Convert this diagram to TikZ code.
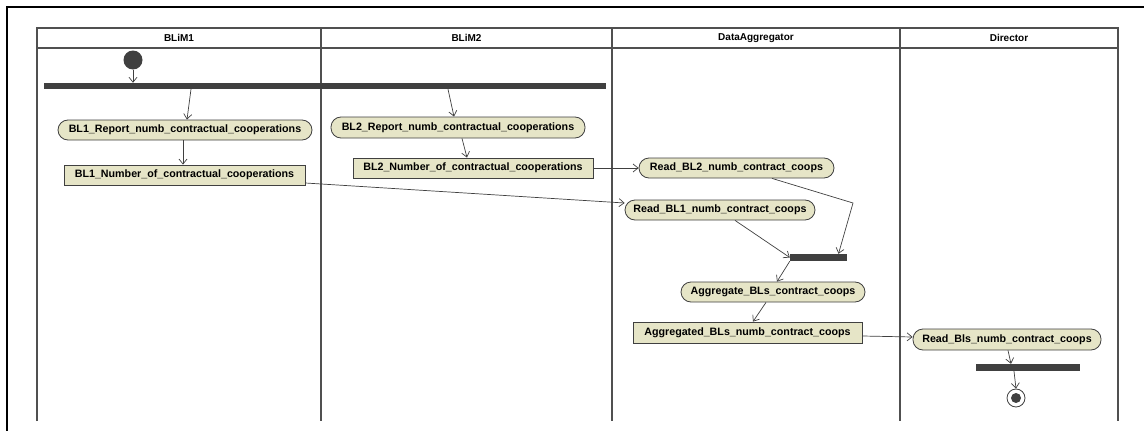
\documentclass[tikz,border=0pt]{standalone}
\usepackage{fontspec}
\setmainfont{Liberation Sans}
\usetikzlibrary{arrows.meta}
\definecolor{actfill}{RGB}{230,229,199}
\definecolor{edgegray}{RGB}{64,64,64}
\definecolor{lanegray}{RGB}{80,80,80}
\definecolor{barfill}{RGB}{64,64,64}
\tikzset{
  x=1pt, y=1pt,
  lane/.style={draw=lanegray, line width=1.5pt},
  lanetitle/.style={font=\fontsize{10}{12}\selectfont\bfseries, inner sep=0pt},
  action/.style={draw=edgegray, fill=actfill, line width=0.8pt, rounded corners=10pt,
    font=\fontsize{10.7}{12}\selectfont\bfseries, inner sep=0pt, minimum height=20pt},
  objbox/.style={draw=edgegray, fill=actfill, line width=0.8pt,
    font=\fontsize{10.7}{12}\selectfont\bfseries, inner sep=0pt, minimum height=20pt},
  syncbar/.style={fill=barfill, draw=none, inner sep=0pt},
  flow/.style={draw=edgegray, line width=0.7pt, -{Straight Barb[length=5pt,width=8pt]}},
  startnode/.style={circle, fill=barfill, inner sep=0pt, minimum size=19pt},
}
\begin{document}
\begin{tikzpicture}
\useasboundingbox (0,0) rectangle (1144,-431);
\fill[white] (0,0) rectangle (1144,-431);

% outer frame
\draw[black, line width=1.5pt] (1144,-7) -- (7,-7) -- (7,-431);

% swimlanes
\draw[lane] (37,-421) -- (37,-28) -- (1118,-28) -- (1118,-421);
\draw[lane] (37,-48) -- (1118,-48);
\draw[lane] (321,-28) -- (321,-421);
\draw[lane] (612,-28) -- (612,-421);
\draw[lane] (900,-28) -- (900,-421);
\node[lanetitle] (t1) at (179,-38) {BLiM1};
\node[lanetitle] (t2) at (466.5,-38) {BLiM2};
\node[lanetitle] (t3) at (756,-38) {DataAggregator};
\node[lanetitle] (t4) at (1009,-38) {Director};

% nodes
\node[startnode] (init) at (133,-60) {};
\node[syncbar, minimum width=562pt, minimum height=6pt] (fork1) at (325,-86) {};
\node[action, minimum width=254pt] (bl1rep) at (185,-130) {BL1\_Report\_numb\_contractual\_cooperations};
\node[objbox, minimum width=241pt] (bl1num) at (184.5,-175) {BL1\_Number\_of\_contractual\_cooperations};
\node[action, minimum width=254pt, minimum height=21pt] (bl2rep) at (458,-127.5) {BL2\_Report\_numb\_contractual\_cooperations};
\node[objbox, minimum width=240pt] (bl2num) at (473,-168) {BL2\_Number\_of\_contractual\_cooperations};
\node[action, minimum width=195pt] (rd2) at (736.5,-168) {Read\_BL2\_numb\_contract\_coops};
\node[action, minimum width=190pt] (rd1) at (720,-210) {Read\_BL1\_numb\_contract\_coops};
\node[syncbar, minimum width=57pt, minimum height=7pt] (join) at (818.5,-257.5) {};
\node[action, minimum width=184pt] (agg) at (773,-292) {Aggregate\_BLs\_contract\_coops};
\node[objbox, minimum width=229pt, minimum height=21pt] (aggd) at (747.5,-332.5) {Aggregated\_BLs\_numb\_contract\_coops};
\node[action, minimum width=188pt, minimum height=21pt] (rdbls) at (1007,-339.5) {Read\_Bls\_numb\_contract\_coops};
\node[syncbar, minimum width=104pt, minimum height=7pt] (fork2) at (1028,-367.5) {};
\node[circle, draw=edgegray, line width=0.8pt, fill=white, minimum size=18pt, inner sep=0pt] (final) at (1016,-398) {};
\fill[barfill] (final.center) circle (5pt);

\coordinate (bend) at (853,-203);

% control flows
\draw[flow] (init.south) -- (init |- fork1.north);
\draw[flow] ([xshift=-134pt]fork1.south) -- ([xshift=2pt]bl1rep.north);
\draw[flow] ([xshift=-2pt]bl1rep.south) -- ([xshift=-1.5pt]bl1num.north);
\draw[flow] ([xshift=123pt]fork1.south) -- ([xshift=-4pt]bl2rep.north);
\draw[flow] ([xshift=4pt]bl2rep.south) -- ([xshift=-6pt]bl2num.north);
\draw[flow] (bl2num.east) -- (rd2.west);
\draw[flow] ([yshift=-8pt]bl1num.east) -- ([yshift=7pt]rd1.west);
\draw[flow] ([xshift=35.5pt]rd2.south) -- (bend) -- ([xshift=20pt]join.north);
\draw[flow] ([xshift=15pt]rd1.south) -- (join.west);
\draw[flow] (join.south west) -- ([xshift=4pt]agg.north);
\draw[flow] ([xshift=-7pt]agg.south) -- ([xshift=5.5pt]aggd.north);
\draw[flow] ([yshift=-3.5pt]aggd.east) -- ([yshift=2.5pt]rdbls.west);
\draw[flow] ([xshift=1pt]rdbls.south) -- ([xshift=-17pt]fork2.north);
\draw[flow] ([xshift=-14pt]fork2.south) -- (final.north);
\end{tikzpicture}
\end{document}
